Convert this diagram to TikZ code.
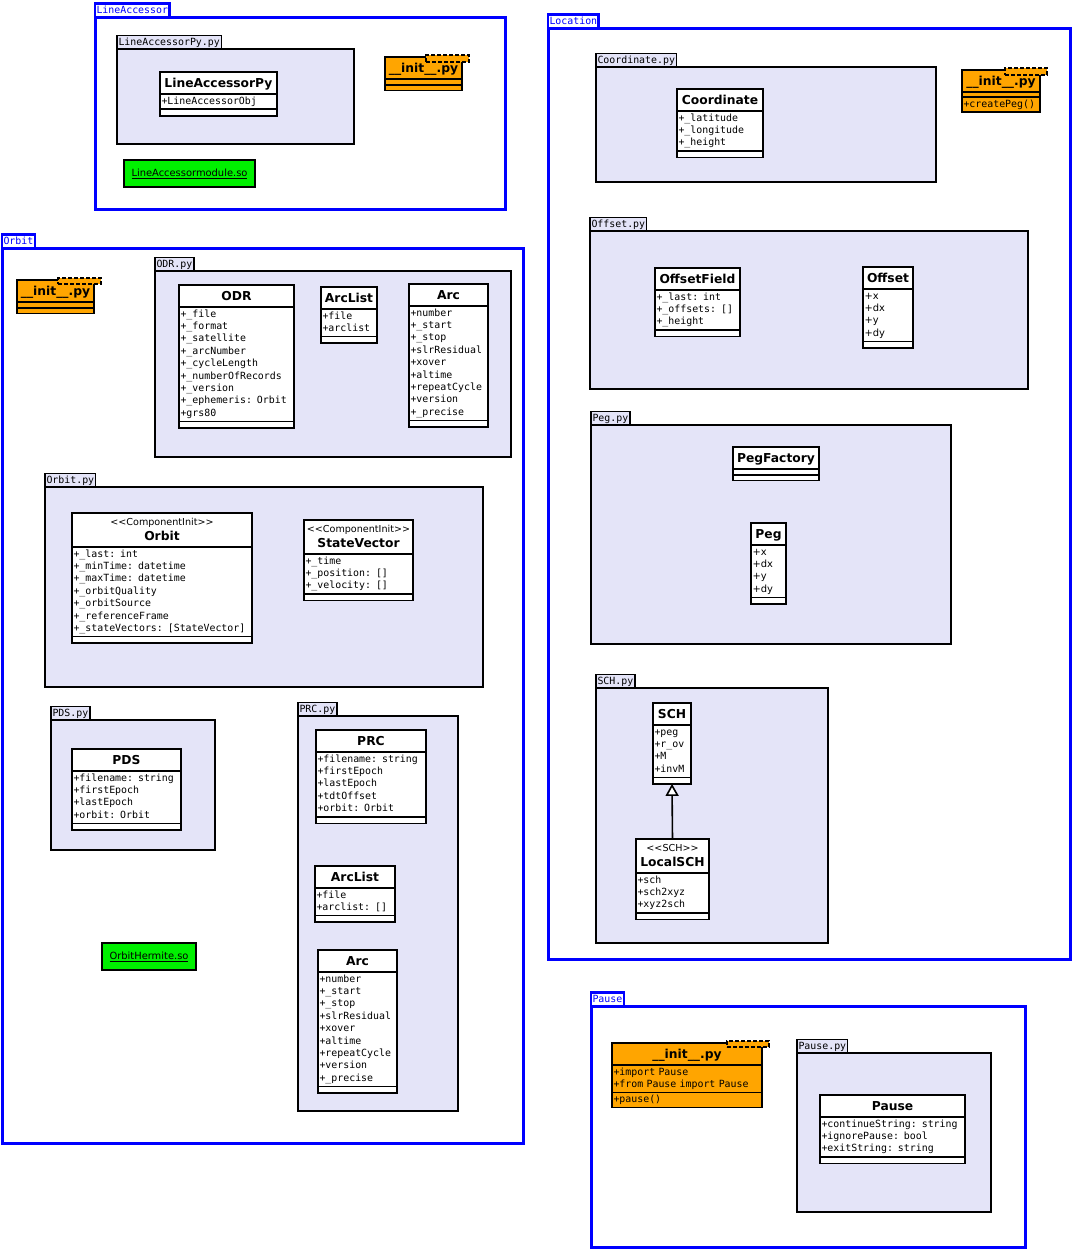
\documentclass[tikz,border=0pt]{standalone}
\usepackage{fontspec}
\setmainfont{DejaVu Sans}
\setsansfont{DejaVu Sans}
\setmonofont{DejaVu Sans Mono}
\usetikzlibrary{shapes.multipart,arrows.meta}

\definecolor{pkgfill}{RGB}{228,228,248}
\definecolor{initfill}{RGB}{255,165,0}
\definecolor{sofill}{RGB}{0,240,0}

% class header, and header with a stereotype
\newcommand{\hd}[1]{\hbox to\hsize{\hss\rule[-5.5pt]{0pt}{19.5pt}{\sffamily\bfseries\fontsize{12.3}{12.4}\selectfont #1}\hss}}
\newcommand{\sthd}[2]{\hbox to\hsize{\hss\rule[-2pt]{0pt}{13.5pt}{\sffamily\fontsize{9.6}{12.4}\selectfont<\kern0pt<#1>\kern0pt>}\hss}\par
  \hbox to\hsize{\hss\rule[-5.5pt]{0pt}{17pt}{\sffamily\bfseries\fontsize{12.3}{12.4}\selectfont #2}\hss}}

\tikzset{
  umlclass/.style={rectangle split, rectangle split parts=3, draw, fill=white,
    line width=1.6pt, inner xsep=1.5pt, inner ysep=0.5pt, outer sep=0pt, align=left,
    anchor=north west, font=\ttfamily\fontsize{9.9}{12.4}\selectfont},
  initbox/.style={umlclass, fill=initfill},
  pytab/.style={draw, fill=pkgfill, line width=1.6pt, inner xsep=1.5pt, inner ysep=1.5pt,
    outer sep=0pt, text height=8pt, text depth=2.5pt, anchor=south west,
    font=\ttfamily\fontsize{9.9}{12}\selectfont},
  pybody/.style={draw, fill=pkgfill, line width=1.6pt, anchor=north west, inner sep=0pt, outer sep=0pt},
  modtab/.style={pytab, draw=blue, fill=white, text=blue, line width=2.4pt},
  modbody/.style={draw=blue, line width=3pt, anchor=north west, inner sep=0pt, outer sep=0pt},
  sobox/.style={draw, fill=sofill, line width=1.6pt, anchor=north west, inner sep=0pt,
    outer sep=0pt, font=\sffamily\fontsize{9.9}{12}\selectfont},
  dashtab/.style={draw, fill=initfill, line width=1.6pt, dash pattern=on 4pt off 2pt,
    anchor=north west, inner sep=0pt, outer sep=0pt}
}

\begin{document}
\begin{tikzpicture}[x=1pt,y=-1pt]
\useasboundingbox (0,0) rectangle (1073,1250);

% LineAccessor
\node[modbody, minimum width=410pt, minimum height=192pt] (la) at (95,17) {};
\node[modtab] (latab) at (95,17) {LineAccessor};
\node[pybody, minimum width=237pt, minimum height=95pt] (lapy) at (117,49) {};
\node[pytab] (lapytab) at (117,49) {LineAccessorPy.py};
\node[umlclass, text width=114pt] (lineacc) at (160,72) {\hd{LineAccessorPy}\nodepart{second}\strut+LineAccessorObj\strut\nodepart{third}\rule{0pt}{4pt}};
\node[initbox, text width=74pt] (lainit) at (385,57) {\hd{\_\_init\_\_.py}\nodepart{second}\rule{0pt}{3pt}\nodepart{third}\rule{0pt}{3pt}};
\node[dashtab, minimum width=43pt, minimum height=7pt] (lainittab) at (426,55) {};
\node[sobox, minimum width=131pt, minimum height=27pt] (laso) at (124,160) {\underline{LineAccessormodule.so}};

% Orbit
\node[modbody, minimum width=521pt, minimum height=895pt] (orb) at (2,248) {};
\node[modtab] (orbtab) at (2,248) {Orbit};
\node[initbox, text width=74pt] (orbinit) at (17,280) {\hd{\_\_init\_\_.py}\nodepart{second}\rule{0pt}{3pt}\nodepart{third}\rule{0pt}{3pt}};
\node[dashtab, minimum width=43pt, minimum height=6pt] (orbinittab) at (58,278) {};

\node[pybody, minimum width=356pt, minimum height=186pt] (odrpy) at (155,271) {};
\node[pytab] (odrpytab) at (155,271) {ODR.py};
\node[umlclass, text width=112pt] (odr) at (179,285) {\hd{ODR}\nodepart{second}\strut+\_file\\+\_format\\+\_satellite\\+\_arcNumber\\+\_cycleLength\\+\_numberOfRecords\\+\_version\\+\_ephemeris: Orbit\\+grs80\strut\nodepart{third}\rule{0pt}{4pt}};
\node[umlclass, text width=53pt] (arclista) at (321,287) {\hd{ArcList}\nodepart{second}\strut+file\\+arclist\strut\nodepart{third}\rule{0pt}{4pt}};
\node[umlclass, text width=76pt] (arca) at (409,284) {\hd{Arc}\nodepart{second}\strut+number\\+\_start\\+\_stop\\+slrResidual\\+xover\\+altime\\+repeatCycle\\+version\\+\_precise\strut\nodepart{third}\rule{0pt}{4pt}};

\node[pybody, minimum width=438pt, minimum height=200pt] (orbpy) at (45,487) {};
\node[pytab] (orbpytab) at (45,487) {Orbit.py};
\node[umlclass, text width=177pt] (orbit) at (72,513) {\sthd{ComponentInit}{Orbit}\nodepart{second}\strut+\_last: int\\+\_minTime: datetime\\+\_maxTime: datetime\\+\_orbitQuality\\+\_orbitSource\\+\_referenceFrame\\+\_stateVectors: [StateVector]\strut\nodepart{third}\rule{0pt}{4pt}};
\node[umlclass, text width=106pt] (statevec) at (304,520) {\sthd{ComponentInit}{StateVector}\nodepart{second}\strut+\_time\\+\_position: []\\+\_velocity: []\strut\nodepart{third}\rule{0pt}{4pt}};

\node[pybody, minimum width=164pt, minimum height=130pt] (pdspy) at (51,720) {};
\node[pytab] (pdspytab) at (51,720) {PDS.py};
\node[umlclass, text width=106pt] (pds) at (72,749) {\hd{PDS}\nodepart{second}\strut+filename: string\\+firstEpoch\\+lastEpoch\\+orbit: Orbit\strut\nodepart{third}\rule{0pt}{4pt}};

\node[pybody, minimum width=160pt, minimum height=395pt] (prcpy) at (298,716) {};
\node[pytab] (prcpytab) at (298,716) {PRC.py};
\node[umlclass, text width=107pt] (prc) at (316,730) {\hd{PRC}\nodepart{second}\strut+filename: string\\+firstEpoch\\+lastEpoch\\+tdtOffset\\+orbit: Orbit\strut\nodepart{third}\rule{0pt}{4pt}};
\node[umlclass, text width=77pt] (arclistb) at (315,866) {\hd{ArcList}\nodepart{second}\strut+file\\+arclist: []\strut\nodepart{third}\rule{0pt}{4pt}};
\node[umlclass, text width=76pt] (arcb) at (318,950) {\hd{Arc}\nodepart{second}\strut+number\\+\_start\\+\_stop\\+slrResidual\\+xover\\+altime\\+repeatCycle\\+version\\+\_precise\strut\nodepart{third}\rule{0pt}{4pt}};

\node[sobox, minimum width=94pt, minimum height=27pt] (orbso) at (102,943) {\underline{OrbitHermite.so}};

% Location
\node[modbody, minimum width=522pt, minimum height=931pt] (loc) at (548,28) {};
\node[modtab] (loctab) at (548,28) {Location};
\node[pybody, minimum width=340pt, minimum height=115pt] (coordpy) at (596,67) {};
\node[pytab] (coordpytab) at (596,67) {Coordinate.py};
\node[umlclass, text width=83pt] (coord) at (677,89) {\hd{Coordinate}\nodepart{second}\strut+\_latitude\\+\_longitude\\+\_height\strut\nodepart{third}\rule{0pt}{4pt}};
\node[initbox, text width=75pt] (locinit) at (962,70) {\hd{\_\_init\_\_.py}\nodepart{second}\rule{0pt}{2.5pt}\nodepart{third}\strut+createPeg()\strut};
\node[dashtab, minimum width=42pt, minimum height=7pt] (locinittab) at (1005,68) {};

\node[pybody, minimum width=438pt, minimum height=158pt] (offpy) at (590,231) {};
\node[pytab] (offpytab) at (590,231) {Offset.py};
\node[umlclass, text width=82pt] (offfield) at (655,268) {\hd{OffsetField}\nodepart{second}\strut+\_last: int\\+\_offsets: []\\+\_height\strut\nodepart{third}\rule{0pt}{4pt}};
\node[umlclass, text width=47pt] (offset) at (863,267) {\hd{Offset}\nodepart{second}\sffamily\strut+x\\+dx\\+y\\+dy\strut\nodepart{third}\rule{0pt}{4pt}};

\node[pybody, minimum width=360pt, minimum height=219pt] (pegpy) at (591,425) {};
\node[pytab] (pegpytab) at (591,425) {Peg.py};
\node[umlclass, text width=83pt] (pegfac) at (733,447) {\hd{PegFactory}\nodepart{second}\rule{0pt}{3pt}\nodepart{third}\rule{0pt}{3pt}};
\node[umlclass, text width=32pt] (peg) at (751,523) {\hd{Peg}\nodepart{second}\sffamily\strut+x\\+dx\\+y\\+dy\strut\nodepart{third}\rule{0pt}{4pt}};

\node[pybody, minimum width=232pt, minimum height=255pt] (schpy) at (596,688) {};
\node[pytab] (schpytab) at (596,688) {SCH.py};
\node[umlclass, text width=35pt] (sch) at (653,703) {\hd{SCH}\nodepart{second}\strut+peg\\+r\_ov\\+M\\+invM\strut\nodepart{third}\rule{0pt}{4pt}};
\node[umlclass, text width=70pt] (localsch) at (636,839) {\sthd{SCH}{LocalSCH}\nodepart{second}\strut+sch\\+sch2xyz\\+xyz2sch\strut\nodepart{third}\rule{0pt}{4pt}};
\draw[line width=1.6pt, -{Triangle[open, fill=white, length=12pt, width=13pt]}] (localsch.north) -- (sch.south);

% Pause
\node[modbody, minimum width=434pt, minimum height=241pt] (pause) at (591,1006) {};
\node[modtab] (pausetab) at (591,1006) {Pause};
\node[initbox, text width=147pt] (pauseinit) at (612,1043) {\hd{\_\_init\_\_.py}\nodepart{second}\strut+import Pause\\+from Pause import Pause\strut\nodepart{third}\strut+pause()\strut};
\node[dashtab, minimum width=42pt, minimum height=6pt] (pauseinittab) at (727,1041) {};
\node[pybody, minimum width=194pt, minimum height=159pt] (pausepy) at (797,1053) {};
\node[pytab] (pausepytab) at (797,1053) {Pause.py};
\node[umlclass, text width=142pt] (pausecls) at (820,1095) {\hd{Pause}\nodepart{second}\strut+continueString: string\\+ignorePause: bool\\+exitString: string\strut\nodepart{third}\rule{0pt}{4pt}};

\end{tikzpicture}
\end{document}
